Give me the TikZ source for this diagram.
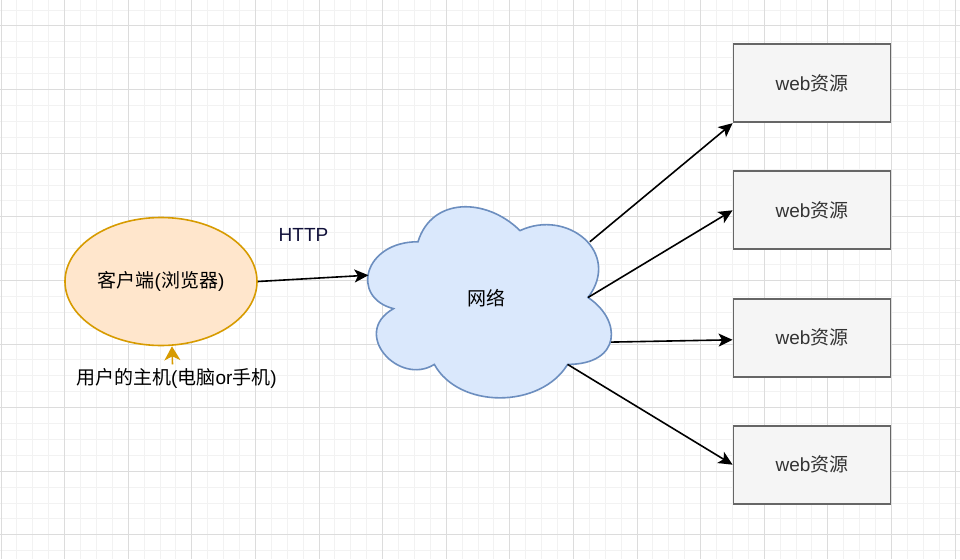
\documentclass[tikz,border=0pt]{standalone}
\usepackage{fontspec}
\usepackage{tikz}
\usepackage{xcolor}
\usetikzlibrary{arrows.meta,shapes.geometric}
\setmainfont{Liberation Sans}
\newfontfamily\cjk{Noto Sans CJK SC}
\definecolor{gridmajor}{HTML}{DCDCDC}
\definecolor{gridminor}{HTML}{F2F2F2}
\definecolor{clientfill}{HTML}{FFE6CC}
\definecolor{clientdraw}{HTML}{D79B00}
\definecolor{netfill}{HTML}{DAE8FC}
\definecolor{netdraw}{HTML}{6C8EBF}
\definecolor{resfill}{HTML}{F5F5F5}
\definecolor{resdraw}{HTML}{666666}
\definecolor{restext}{HTML}{333333}
\definecolor{httpnavy}{HTML}{10103A}

\begin{document}
\begin{tikzpicture}[
  x=1pt,y=-1pt,
  every node/.style={font=\fontsize{19}{23}\selectfont},
  minorline/.style={draw=gridminor, line width=1pt},
  majorline/.style={draw=gridmajor, line width=1pt},
  client/.style={ellipse, draw=clientdraw, fill=clientfill, line width=1.6pt, minimum width=192, minimum height=128, inner sep=0pt},
  cloudline/.style={draw=netdraw, fill=netfill, line width=1.6pt},
  res/.style={draw=resdraw, fill=resfill, line width=1.8pt, text=restext, minimum width=157, minimum height=78, inner sep=0pt},
  arrow/.style={-{Stealth[length=14pt, width=13pt, inset=3.5pt]}, line width=1.6pt, draw=black},
  hostarrow/.style={-{Stealth[length=14pt, width=16pt, inset=4pt]}, line width=1.6pt, draw=clientdraw, fill=clientdraw}
]
\useasboundingbox (0,0) rectangle (960,559);
\fill[white] (0,0) rectangle (960,559);

% background grid
\begin{scope}
\clip (0,0) rectangle (960,559);
\foreach \i in {0,...,60} {
  \draw[minorline] ({1+15.9*\i},0) -- ({1+15.9*\i},559);
}
\foreach \j in {-2,...,34} {
  \draw[minorline] (0,{26+15.9*\j}) -- (960,{26+15.9*\j});
}
\foreach \i in {0,...,15} {
  \draw[majorline] ({1+63.6*\i},0) -- ({1+63.6*\i},559);
}
\foreach \j in {-1,...,8} {
  \draw[majorline] (0,{26+63.6*\j}) -- (960,{26+63.6*\j});
}
\end{scope}

% network cloud
\begin{scope}[shift={(350,186)}, x=272pt, y=-223pt]
\draw[cloudline] (0.25,0.25) .. controls (0.05,0.25) and (0,0.5) .. (0.16,0.55)
  .. controls (0,0.66) and (0.18,0.9) .. (0.31,0.8)
  .. controls (0.4,1) and (0.7,1) .. (0.8,0.8)
  .. controls (1,0.8) and (1,0.6) .. (0.875,0.5)
  .. controls (1,0.3) and (0.8,0.1) .. (0.625,0.2)
  .. controls (0.5,0.05) and (0.3,0.05) .. (0.25,0.25) -- cycle;
\coordinate (netin) at (0.068,0.40);
\coordinate (netout1) at (0.882,0.25);
\coordinate (netout2) at (0.875,0.5);
\coordinate (netout3) at (0.96,0.70);
\coordinate (netout4) at (0.8,0.8);
\end{scope}
\node (net) at (486,298) {\cjk 网络};

\node[client] (client) at (161,281.5) {{\cjk 客户端}({\cjk 浏览器})};
\node (host) at (176.5,378) {{\cjk 用户的主机}({\cjk 电脑}or{\cjk 手机})};
\node[text=httpnavy] (http) at (303.5,235) {HTTP};

\node[res] (res1) at (812,83.3) {web{\cjk 资源}};
\node[res] (res2) at (812,210.3) {web{\cjk 资源}};
\node[res] (res3) at (812,337.8) {web{\cjk 资源}};
\node[res] (res4) at (812,464.7) {web{\cjk 资源}};

\draw[hostarrow] ([xshift=-4pt]host.north) -- ([xshift=11pt]client.south);
\draw[arrow] (client.east) -- (netin);
\draw[arrow] (netout1) -- (res1.south west);
\draw[arrow] (netout2) -- (res2.west);
\draw[arrow] (netout3) -- ([yshift=-2pt]res3.west);
\draw[arrow] (netout4) -- (res4.west);
\end{tikzpicture}
\end{document}
